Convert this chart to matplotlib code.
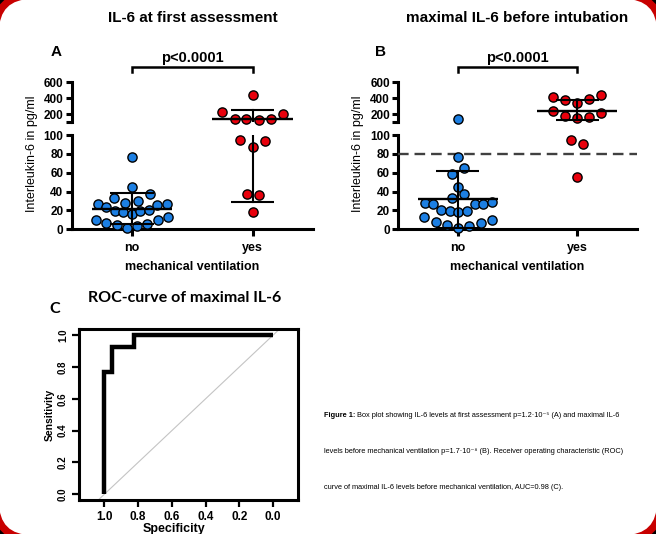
import matplotlib
matplotlib.use("Agg")
import matplotlib.pyplot as plt
import matplotlib.transforms as mtransforms
from matplotlib.patches import FancyBboxPatch
import numpy as np

W, H = 656, 534

# ---------------- data ----------------
categories = ["no", "yes"]

# Panel A: IL-6 at first assessment
a_no = [76.3, 44.9, 33.0, 37.0, 28.3, 30.4, 26.5, 23.7, 25.4, 26.9, 19.4, 18.4,
        16.3, 19.4, 20.5, 9.9, 6.4, 4.9, 1.8, 3.2, 5.7, 9.5, 13.4]
a_no_jitter = [0, 0, -0.153, 0.153, -0.056, 0.047, -0.286, -0.214, 0.208, 0.286,
               -0.144, -0.075, 0, 0.069, 0.144, -0.297, -0.214, -0.125, -0.042,
               0.042, 0.125, 0.214, 0.30]
a_yes = [434, 229, 200, 137, 137, 124, 137, 94.3, 93.3, 87.6, 37.1, 36.4, 18.7]
a_yes_jitter = [0, -0.253, 0.253, -0.15, -0.053, 0.05, 0.153, -0.103, 0.103, 0,
                -0.047, 0.053, 0]
a_summary_no = [22.0, 5.5, 38.5]      # median, lower, upper
a_summary_yes = [135.0, 28.6, 253.0]

# Panel B: maximal IL-6 before intubation
b_no = [133, 76.3, 64.7, 59.0, 44.9, 37.1, 33.2, 28.3, 26.5, 26.5, 26.9, 29.3,
        20.5, 19.4, 18.4, 19.8, 13.4, 8.1, 4.9, 1.8, 3.5, 7.1, 9.5]
b_no_jitter = [0, 0, 0.055, -0.047, 0, 0.055, -0.047, -0.28, -0.206, 0.143, 0.214,
               0.288, -0.143, -0.069, 0, 0.074, -0.285, -0.186, -0.09, 0, 0.096,
               0.192, 0.288]
b_yes = [442, 421, 392, 371, 345, 237, 216, 179, 145, 166, 94.3, 90.5, 55.5]
b_yes_jitter = [0.197, -0.206, 0.096, -0.104, 0, -0.206, 0.197, -0.104, 0, 0.096,
                -0.049, 0.049, 0]
b_summary_no = [31.8, 1.5, 61.8]
b_summary_yes = [244.0, 120.0, 375.0]
b_cutoff = 80

# Panel C: ROC curve
roc_specificity = [1.0, 1.0, 0.957, 0.957, 0.826, 0.826, 0.0]
roc_sensitivity = [0.0, 0.769, 0.769, 0.923, 0.923, 1.0, 1.0]
roc_ticks = [0.0, 0.2, 0.4, 0.6, 0.8, 1.0]

y_ticks_low = [0, 20, 40, 60, 80, 100]
y_ticks_high = [200, 400, 600]
p_text = "p<0.0001"

caption_bold = "Figure 1:"
caption_lines = [
    " Box plot showing IL-6 levels at first assessment p=1.2\u00b710\u207b\u2075 (A) and maximal IL-6",
    "levels before mechanical ventilation p=1.7\u00b710\u207b\u2078 (B). Receiver operating characteristic (ROC)",
    "curve of maximal IL-6 levels before mechanical ventilation, AUC=0.98 (C).",
]

# ---------------- style ----------------
plt.rcParams['font.family'] = ['Liberation Sans', 'DejaVu Sans']
plt.rcParams['font.weight'] = 'bold'
BLUE = "#1c7fe3"
RED = "#e8000c"
LW = 2.2

fig = plt.figure(figsize=(W / 100, H / 100), dpi=100)
fig.patch.set_facecolor('black')

red_frame = FancyBboxPatch((-8 / 100, -8 / 100), (W + 16) / 100, (H + 16) / 100,
                           boxstyle="round,pad=0,rounding_size=0.40",
                           transform=fig.dpi_scale_trans, fc='#c80000', ec='none', zorder=-10)
white_frame = FancyBboxPatch((-1 / 100, -1 / 100), (W + 2) / 100, (H + 2) / 100,
                             boxstyle="round,pad=0,rounding_size=0.33",
                             transform=fig.dpi_scale_trans, fc='white', ec='none', zorder=-9)
fig.add_artist(red_frame)
fig.add_artist(white_frame)


def fx(x):
    return x / W


def fy(y):
    return 1 - y / H


def fig_rect(left, top, right, bottom):
    return [left / W, 1 - bottom / H, (right - left) / W, (bottom - top) / H]


def draw_group(lo, hi, xc, vals, jit, summ, color):
    vals = np.asarray(vals, float)
    jit = np.asarray(jit, float)
    for ax, mask in ((lo, vals <= 100), (hi, vals > 100)):
        ax.scatter(xc + jit[mask], vals[mask], s=44, c=color, edgecolors='black',
                   linewidths=1.0, zorder=5, clip_on=False)
    med, low, up = summ
    for ax in (lo, hi):
        ax.plot([xc - 0.335, xc + 0.335], [med, med], color='black', lw=1.7, zorder=6,
                solid_capstyle='butt')
        ax.plot([xc - 0.18, xc + 0.18], [low, low], color='black', lw=1.5, zorder=6,
                solid_capstyle='butt')
        ax.plot([xc - 0.18, xc + 0.18], [up, up], color='black', lw=1.5, zorder=6,
                solid_capstyle='butt')
        ax.plot([xc, xc], [low, up], color='black', lw=1.5, zorder=6)


def panel(left, right, no_vals, no_jit, yes_vals, yes_jit, s_no, s_yes,
          title, letter, letter_x, ylabel_x, cutoff=None):
    lo = fig.add_axes(fig_rect(left, 135.0, right, 229.3))
    hi = fig.add_axes(fig_rect(left, 82.3, right, 122.0))
    for ax in (lo, hi):
        ax.set_xlim(-0.5, 1.5)
        ax.set_facecolor('none')
        ax.spines['top'].set_visible(False)
        ax.spines['right'].set_visible(False)
        ax.spines['left'].set_linewidth(LW)
        ax.tick_params(axis='y', width=LW, length=4.5, labelsize=8.5, pad=1.5)
    lo.set_ylim(0, 100)
    lo.set_yticks(y_ticks_low)
    hi.set_ylim(100, 600)
    hi.set_yticks(y_ticks_high)
    hi.set_yticks([100], minor=True)
    hi.tick_params(axis='y', which='minor', width=LW, length=4.5)
    hi.spines['bottom'].set_visible(False)
    hi.set_xticks([])
    lo.spines['bottom'].set_linewidth(LW)
    lo.set_xticks([0, 1])
    lo.set_xticklabels(categories, fontsize=9, fontweight='bold')
    lo.tick_params(axis='x', width=LW, length=5, pad=4)

    if cutoff is not None:
        lo.axhline(cutoff, color='#404040', lw=1.7, dashes=(4.5, 2.5), zorder=4)

    draw_group(lo, hi, 0, no_vals, no_jit, s_no, BLUE)
    draw_group(lo, hi, 1, yes_vals, yes_jit, s_yes, RED)

    # significance bracket
    tr = mtransforms.blended_transform_factory(hi.transData, hi.transAxes)
    hi.plot([0, 0, 1, 1], [1.25, 1.385, 1.385, 1.25], transform=tr, color='black',
            lw=1.8, clip_on=False, solid_joinstyle='miter')
    hi.text(0.5, 1.62, p_text, transform=tr, ha='center', va='center', fontsize=10.5,
            fontweight='bold')

    cx = (left + right) / 2
    fig.text(fx(cx), fy(18), title, ha='center', va='center', fontsize=11, fontweight='bold')
    fig.text(fx(letter_x), fy(52), letter, ha='center', va='center', fontsize=11,
             fontweight='bold')
    fig.text(fx(ylabel_x), fy(154), "Interleukin-6 in pg/ml", rotation=90, ha='center',
             va='center', fontsize=9, fontweight='normal')
    fig.text(fx(cx), fy(267), "mechanical ventilation", ha='center', va='center',
             fontsize=9, fontweight='bold')


panel(71.7, 313.0, a_no, a_no_jitter, a_yes, a_yes_jitter, a_summary_no, a_summary_yes,
      "IL-6 at first assessment", "A", 56, 32)
panel(398.3, 636.7, b_no, b_no_jitter, b_yes, b_yes_jitter, b_summary_no, b_summary_yes,
      "maximal IL-6 before intubation", "B", 381, 358, cutoff=b_cutoff)

# ---------------- ROC panel ----------------
rax = fig.add_axes(fig_rect(79, 329.3, 297.7, 500))
rax.set_facecolor('none')
rax.axline((1, 0), (0, 1), color='#c4c4c4', lw=0.8, zorder=1)
rax.plot(roc_specificity, roc_sensitivity, color='black', lw=3.2, zorder=3,
         solid_joinstyle='miter', solid_capstyle='butt')
rax.set_xlim(1.15, -0.145)
rax.set_ylim(-0.036, 1.036)
for s in rax.spines.values():
    s.set_linewidth(LW)
rax.set_xticks(roc_ticks)
rax.set_xticklabels([f"{t:.1f}" for t in roc_ticks], fontsize=8.5, fontweight='bold')
rax.set_yticks(roc_ticks)
rax.set_yticklabels([f"{t:.1f}" for t in roc_ticks], fontsize=7, fontweight='bold',
                    rotation=90, va='center')
rax.tick_params(width=1.6, length=5, pad=3)
fig.text(fx(50), fy(415), "Sensitivity", rotation=90, ha='center', va='center',
         fontsize=7.5, fontweight='bold')
fig.text(fx(174), fy(529), "Specificity", ha='center', va='center', fontsize=9,
         fontweight='bold')
fig.text(fx(185), fy(298), "ROC-curve of maximal IL-6", ha='center', va='center',
         fontsize=11.5, fontweight='bold', family=['Lato', 'DejaVu Sans'])
fig.text(fx(55), fy(309), "C", ha='center', va='center', fontsize=11.5, fontweight='bold',
         family=['Lato', 'DejaVu Sans'])

# ---------------- caption ----------------
cap_family = ['Liberation Sans Narrow', 'Liberation Sans', 'DejaVu Sans']
cap_y = [415.7, 451.7, 487.3]
cap_x0 = 324
cap_target_width = 305  # width in pixels of the longest caption line

# fit font size so the second (longest) line spans the target width
probe = fig.text(0, 0, caption_lines[1], fontsize=10, fontweight='normal', family=cap_family)
fig.canvas.draw()
probe_w = probe.get_window_extent().width
probe.remove()
cap_size = 10 * cap_target_width / probe_w

t0 = fig.text(fx(cap_x0), fy(cap_y[0]), caption_bold, fontsize=cap_size, fontweight='bold',
              family=cap_family, va='center', ha='left')
fig.canvas.draw()
bb = t0.get_window_extent()
fig.text(bb.x1 / fig.bbox.width, fy(cap_y[0]), caption_lines[0], fontsize=cap_size,
         fontweight='normal', family=cap_family, va='center', ha='left')
for line, y in zip(caption_lines[1:], cap_y[1:]):
    fig.text(fx(cap_x0), fy(y), line, fontsize=cap_size, fontweight='normal',
             family=cap_family, va='center', ha='left')

fig.savefig("out.png", dpi=100, facecolor=fig.get_facecolor())
